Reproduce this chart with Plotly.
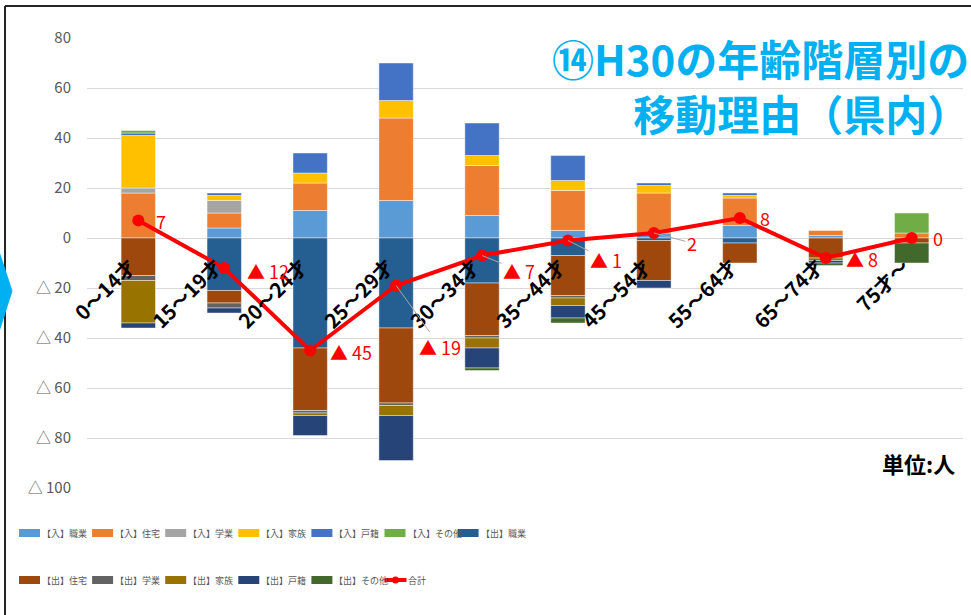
import plotly.graph_objects as go

# ---------------- data ----------------
categories = ["0～14才", "15～19才", "20～24才", "25～29才", "30～34才",
              "35～44才", "45～54才", "55～64才", "65～74才", "75才～"]

in_job      = [0, 4, 11, 15, 9, 3, 2, 5, 1, 0]
in_house    = [18, 6, 11, 33, 20, 16, 16, 11, 2, 2]
in_school   = [2, 5, 0, 0, 0, 0, 0, 0, 0, 0]
in_family   = [21, 2, 4, 7, 4, 4, 3, 1, 0, 0]
in_register = [1, 1, 8, 15, 13, 10, 1, 1, 0, 0]
in_other    = [1, 0, 0, 0, 0, 0, 0, 0, 0, 8]

out_job      = [0, 21, 44, 36, 18, 7, 1, 2, 0, 0]
out_house    = [15, 5, 25, 30, 21, 16, 16, 8, 8, 2]
out_school   = [2, 2, 1, 1, 1, 1, 0, 0, 0, 0]
out_family   = [17, 0, 1, 4, 4, 3, 0, 0, 1, 0]
out_register = [2, 2, 8, 18, 8, 5, 3, 0, 1, 0]
out_other    = [0, 0, 0, 0, 1, 2, 0, 0, 1, 8]

net_total = [7, -12, -45, -19, -7, -1, 2, 8, -8, 0]

y_tick_vals = [80, 60, 40, 20, 0, -20, -40, -60, -80, -100]
y_tick_text = ["80", "60", "40", "20", "0", "△ 20", "△ 40", "△ 60", "△ 80", "△ 100"]

# ---------------- style ----------------
FONT = "Noto Sans CJK JP"
W, H = 971, 615
ML, MR, MT, MB = 87, 8, 38, 127
PW, PH = W - ML - MR, H - MT - MB


def px_x(px):
    return (px - ML) / PW


def px_y(py):
    return (H - MB - py) / PH


series = [
    ("【入】職業", in_job, 1, "#5B9BD5"),
    ("【入】住宅", in_house, 1, "#ED7D31"),
    ("【入】学業", in_school, 1, "#A5A5A5"),
    ("【入】家族", in_family, 1, "#FFC000"),
    ("【入】戸籍", in_register, 1, "#4472C4"),
    ("【入】その他", in_other, 1, "#70AD47"),
    ("【出】職業", out_job, -1, "#255E91"),
    ("【出】住宅", out_house, -1, "#9E480E"),
    ("【出】学業", out_school, -1, "#636363"),
    ("【出】家族", out_family, -1, "#997300"),
    ("【出】戸籍", out_register, -1, "#264478"),
    ("【出】その他", out_other, -1, "#43682B"),
]
TOTAL_NAME = "合計"
TOTAL_COLOR = "#FF0000"

fig = go.Figure()
for name, vals, sign, color in series:
    fig.add_trace(go.Bar(
        name=name, x=categories,
        y=[sign * v if v else None for v in vals],
        marker=dict(color=color, line=dict(color="rgba(255,255,255,0.55)", width=0.8)),
        showlegend=False,
    ))

fig.add_trace(go.Scatter(
    name=TOTAL_NAME, x=categories, y=net_total, mode="lines+markers",
    line=dict(color=TOTAL_COLOR, width=4),
    marker=dict(color=TOTAL_COLOR, size=12),
    showlegend=False,
))

# data labels for the total line (pixel offsets of the label from its point)
label_offsets = [(23, 0), (44, 3), (41, 1), (44, 61), (37, 15),
                 (38, 19), (38, 10), (25, 0), (36, 1), (26, 0)]
leader = [False, False, False, True, True, True, True, False, False, False]
annotations = []
for i, v in enumerate(net_total):
    txt = f"▲ {abs(v)}" if v < 0 else str(v)
    ax, ay = label_offsets[i]
    annotations.append(dict(
        x=categories[i], y=v, xref="x", yref="y", text=txt,
        showarrow=True, arrowhead=0, arrowwidth=1,
        arrowcolor="#A6A6A6" if leader[i] else "rgba(0,0,0,0)",
        ax=ax, ay=ay, axref="pixel", ayref="pixel",
        font=dict(family=FONT, size=18, color=TOTAL_COLOR),
    ))

# title
annotations.append(dict(
    xref="paper", yref="paper", x=px_x(971), y=px_y(85),
    xanchor="right", yanchor="middle", align="right", showarrow=False,
    text="<b>⑭H30の年齢階層別の<br>移動理由（県内）</b>",
    font=dict(family=FONT, size=42, color="#00B0F0"),
))

annotations.append(dict(
    xref="paper", yref="paper", x=px_x(957), y=px_y(463),
    xanchor="right", yanchor="middle", showarrow=False,
    text="<b>単位:人</b>",
    font=dict(family=FONT, size=22, color="#000000"),
))

shapes = [
    dict(type="line", xref="paper", yref="paper", x0=px_x(5), x1=px_x(5),
         y0=px_y(6), y1=px_y(640), line=dict(color="#262626", width=2)),
    dict(type="line", xref="paper", yref="paper", x0=px_x(5), x1=px_x(990),
         y0=px_y(6), y1=px_y(6), line=dict(color="#262626", width=2)),
    dict(type="path", xref="paper", yref="paper", fillcolor="#00B0F0",
         line=dict(width=0),
         path=(f"M {px_x(-20)},{px_y(253)} L {px_x(0)},{px_y(253)} "
               f"L {px_x(12.5)},{px_y(291)} L {px_x(0)},{px_y(330)} "
               f"L {px_x(-20)},{px_y(330)} Z")),
]

# ---------------- custom legend (two rows, 7 + 6 entries) ----------------
legend_entries = [(n, c, "bar") for n, _, _, c in series] + [(TOTAL_NAME, TOTAL_COLOR, "line")]
LEG_X0, LEG_DX, LEG_ROWS_Y, PER_ROW = 19, 73.1, (533, 580), 7
for k, (name, color, kind) in enumerate(legend_entries):
    row, col = divmod(k, PER_ROW)
    x0 = LEG_X0 + LEG_DX * col
    yc = LEG_ROWS_Y[row]
    if kind == "bar":
        shapes.append(dict(type="rect", xref="paper", yref="paper",
                           x0=px_x(x0), x1=px_x(x0 + 21), y0=px_y(yc + 4), y1=px_y(yc - 4),
                           fillcolor=color, line=dict(width=0)))
    else:
        shapes.append(dict(type="line", xref="paper", yref="paper",
                           x0=px_x(x0), x1=px_x(x0 + 22), y0=px_y(yc), y1=px_y(yc),
                           line=dict(color=color, width=4)))
        shapes.append(dict(type="circle", xref="paper", yref="paper",
                           x0=px_x(x0 + 7.5), x1=px_x(x0 + 14.5),
                           y0=px_y(yc + 3.5), y1=px_y(yc - 3.5),
                           fillcolor=color, line=dict(width=0)))
    annotations.append(dict(
        xref="paper", yref="paper", x=px_x(x0 + 21), y=px_y(yc),
        xanchor="left", yanchor="middle", showarrow=False, text=name,
        font=dict(family=FONT, size=9, color="#595959"),
    ))

fig.update_layout(
    width=W, height=H,
    margin=dict(l=ML, r=MR, t=MT, b=MB, autoexpand=False),
    paper_bgcolor="white", plot_bgcolor="white",
    barmode="relative", bargap=0.6,
    font=dict(family=FONT),
    showlegend=False,
    xaxis=dict(
        type="category", anchor="free", position=100 / 180,
        tickangle=-45, showgrid=False, showline=False, zeroline=False,
        ticks="outside", ticklen=8, tickcolor="rgba(0,0,0,0)",
        ticklabelshift=-8,
        tickfont=dict(family=FONT, size=20, color="#000000", weight="bold"),
    ),
    yaxis=dict(
        range=[-100, 80], tickvals=y_tick_vals, ticktext=y_tick_text,
        showgrid=True, gridcolor="#D9D9D9", gridwidth=1.3,
        zeroline=False, showline=False,
        ticks="outside", ticklen=12, tickcolor="rgba(0,0,0,0)",
        tickfont=dict(family=FONT, size=15, color="#595959"),
    ),
    annotations=annotations,
    shapes=shapes,
)

fig.write_html(
    "out.html",
    config={"displayModeBar": False},
    post_script="document.body.style.margin='0px';document.body.style.overflow='hidden';",
)
